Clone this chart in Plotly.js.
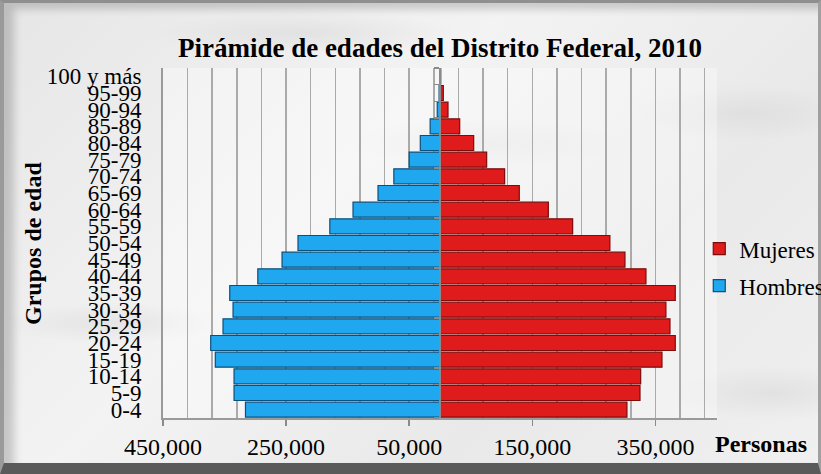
<!DOCTYPE html>
<html>
<head>
<meta charset="utf-8">
<script src="https://cdn.plot.ly/plotly-3.0.1.min.js"></script>
<style>
  html, body { margin:0; padding:0; width:821px; height:474px; overflow:hidden; }
  #wrap {
    position:relative; width:821px; height:474px; box-sizing:border-box;
    background:
      radial-gradient(ellipse 160px 30px at 110px 320px, rgba(150,150,150,0.14), rgba(0,0,0,0) 70%),
      radial-gradient(ellipse 200px 35px at 480px 140px, rgba(150,150,150,0.10), rgba(0,0,0,0) 70%),
      radial-gradient(ellipse 150px 40px at 770px 390px, rgba(150,150,150,0.14), rgba(0,0,0,0) 70%),
      radial-gradient(ellipse 220px 30px at 300px 30px, rgba(150,150,150,0.14), rgba(0,0,0,0) 70%),
      radial-gradient(ellipse 160px 40px at 740px 110px, rgba(150,150,150,0.12), rgba(0,0,0,0) 70%),
      linear-gradient(135deg, #e6e6e6 0%, #f3f3f3 40%, #e9e9e9 70%, #f0f0f0 100%);
    border-top:3px solid #8f8f8f;
    border-left:4px solid #9a9a9a;
    border-right:3px solid #a0a0a0;
    border-bottom:11px solid #5a5a5a;
    box-shadow: inset 10px 6px 8px rgba(0,0,0,0.18);
  }
  #chart { position:absolute; left:-4px; top:-3px; width:821px; height:474px; }
</style>
</head>
<body>
<div id="wrap"><div id="chart"></div></div>
<script>
// ---- data ----
var grupos = ['0-4','5-9','10-14','15-19','20-24','25-29','30-34','35-39','40-44','45-49',
              '50-54','55-59','60-64','65-69','70-74','75-79','80-84','85-89','90-94','95-99','100 y más'];
var hombres = [316000, 334600, 334600, 365000, 372500, 352500, 336200, 341600, 296000, 256600,
               230700, 179000, 141300, 100700, 75000, 50000, 32000, 16000, 4500, 1500, 400];
var mujeres = [303700, 324900, 326000, 360600, 382200, 373600, 367000, 382200, 334600, 300500,
               276000, 215500, 176000, 128800, 105000, 75800, 54700, 32000, 13000, 5400, 1200];
var tickValues = [-450000, -250000, -50000, 150000, 350000];
var tickLabels = ['450,000', '250,000', '50,000', '150,000', '350,000'];

var FONT = 'Liberation Serif, Times New Roman, serif';

var traces = [
  {
    type:'bar', orientation:'h', name:'Mujeres', legendgroup:'m',
    y: grupos, x: mujeres,
    marker:{ color:'#e01b1b', line:{ color:'#7c0b0b', width:1.2 } },
    hoverinfo:'name+y'
  },
  {
    type:'bar', orientation:'h', name:'Hombres', legendgroup:'h',
    y: grupos, x: hombres.map(function(v){ return -v; }),
    yaxis:'y2',
    marker:{ color:'#1fa8f0', line:{ color:'#0d4f7c', width:1.2 } },
    hoverinfo:'name+y'
  }
];

var layout = {
  width:821, height:474,
  margin:{ l:163, r:104, t:68, b:56, autoexpand:false },
  paper_bgcolor:'rgba(0,0,0,0)',
  plot_bgcolor:'rgba(255,255,255,0.35)',
  font:{ family:FONT, size:23, color:'#000' },
  barmode:'overlay',
  bargap:0.1,
  showlegend:true,
  title:{
    text:'<b>Pirámide de edades del Distrito Federal, 2010</b>',
    font:{ family:FONT, size:27, color:'#000' },
    xref:'paper', x:0.5, xanchor:'center',
    yref:'container', y:0.9, yanchor:'middle'
  },
  xaxis:{
    range:[-450000, 450000],
    tickmode:'array', tickvals:tickValues, ticktext:tickLabels,
    ticks:'outside', ticklen:6, tickcolor:'#8a8a8a', tickwidth:1.5,
    showline:true, linecolor:'#9a9a9a', linewidth:2,
    showgrid:true, gridcolor:'#aaaaaa', gridwidth:1.5,
    minor:{ tick0:-450000, dtick:40000, showgrid:true, gridcolor:'#aaaaaa', gridwidth:1.5, ticks:'' },
    zeroline:false,
    tickfont:{ family:FONT, size:24 },
    fixedrange:true
  },
  yaxis:{
    type:'category',
    tickmode:'linear', tick0:0, dtick:1,
    showline:true, linecolor:'#9a9a9a', linewidth:2,
    ticks:'', showgrid:false, zeroline:false,
    ticklabelstandoff:15,
    tickfont:{ family:FONT, size:23 },
    fixedrange:true
  },
  yaxis2:{
    type:'category', overlaying:'y', matches:'y', anchor:'free', position:0.5, side:'left',
    showline:true, linecolor:'#8a8a8a', linewidth:2,
    ticks:'outside', ticklen:5, tickcolor:'#8a8a8a', tickwidth:1.5, tickson:'boundaries',
    showticklabels:false, showgrid:false, zeroline:false,
    fixedrange:true
  },
  legend:{
    traceorder:'grouped', tracegroupgap:4,
    x:0.968, xanchor:'left', y:0.545, yanchor:'top',
    bgcolor:'rgba(0,0,0,0)',
    font:{ family:FONT, size:23 },
    itemwidth:30
  },
  annotations:[
    { text:'<b>Personas</b>', xref:'paper', yref:'paper', x:1.079, y:-0.073,
      xanchor:'center', yanchor:'middle', showarrow:false,
      font:{ family:FONT, size:24, color:'#000' } },
    { text:'<b>Grupos de edad</b>', xref:'paper', yref:'paper', x:-0.2347, y:0.5,
      xanchor:'center', yanchor:'middle', textangle:-90, showarrow:false,
      font:{ family:FONT, size:24, color:'#000' } }
  ]
};

Plotly.newPlot('chart', traces, layout, { displayModeBar:false, staticPlot:true });
</script>
</body>
</html>
